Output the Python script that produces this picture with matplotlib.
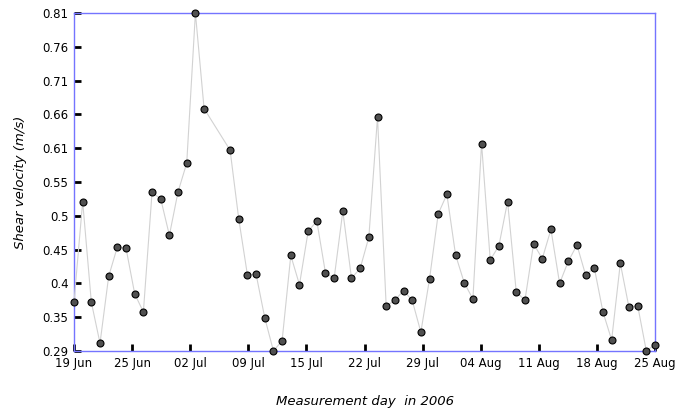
import math
from datetime import date, timedelta
import numpy as np
import matplotlib
matplotlib.use("Agg")
import matplotlib.pyplot as plt

start = date(2006, 6, 19)

# day offsets from 19 Jun 2006 (16 and 17 missing)
days = list(range(0, 16)) + list(range(18, 68))
velocity = [0.369, 0.524, 0.369, 0.306, 0.409, 0.454, 0.452, 0.382, 0.354, 0.538,
            0.528, 0.472, 0.539, 0.583, 0.814, 0.667,
            0.603, 0.497, 0.411, 0.412, 0.345, 0.294, 0.310, 0.441, 0.396, 0.478,
            0.494, 0.414, 0.406, 0.509, 0.406, 0.421, 0.469, 0.654, 0.363, 0.372,
            0.387, 0.372, 0.323, 0.405, 0.505, 0.535, 0.442, 0.399, 0.374, 0.613,
            0.434, 0.456, 0.524, 0.385, 0.372, 0.459, 0.436, 0.481, 0.398, 0.432,
            0.457, 0.411, 0.422, 0.354, 0.311, 0.429, 0.361, 0.364, 0.294, 0.304]

fig = plt.figure(figsize=(6.77, 4.08), dpi=100)
ax = fig.add_axes([74 / 677, 1 - 351 / 408, 581 / 677, 338 / 408])

ax.plot(days, velocity, color="#d2d2d2", linewidth=0.8, marker="o",
        markersize=5, markerfacecolor="#505050", markeredgecolor="black",
        markeredgewidth=0.8, zorder=3)

xmin, xmax = min(days), max(days)
ymin, ymax = min(velocity), max(velocity)
ax.set_xlim(xmin, xmax)
ax.set_ylim(ymin, ymax)

xt = np.linspace(xmin, xmax, 11)
ax.set_xticks(xt)
ax.set_xticklabels([(start + timedelta(days=math.floor(v + 1e-9))).strftime("%d %b") for v in xt])
yt = np.linspace(ymin, ymax, 11)
ax.set_yticks(yt)
ax.set_yticklabels([("%.2f" % v).rstrip("0") for v in yt])

for s in ax.spines.values():
    s.set_color("#7474ff")
    s.set_linewidth(1.0)

ax.tick_params(direction="in", length=5, width=2, color="black",
               labelsize=8.5, top=False, right=False)
ax.tick_params(axis="y", pad=4)
ax.tick_params(axis="x", pad=4)

ax.set_ylabel("Shear velocity (m/s)", fontstyle="italic", fontsize=9.5, labelpad=11)
ax.set_xlabel("Measurement day  in 2006", fontstyle="italic", fontsize=9.5, labelpad=18)

for ln in ax.get_lines():
    ln.set_clip_on(False)

fig.savefig("out.png", dpi=100)
